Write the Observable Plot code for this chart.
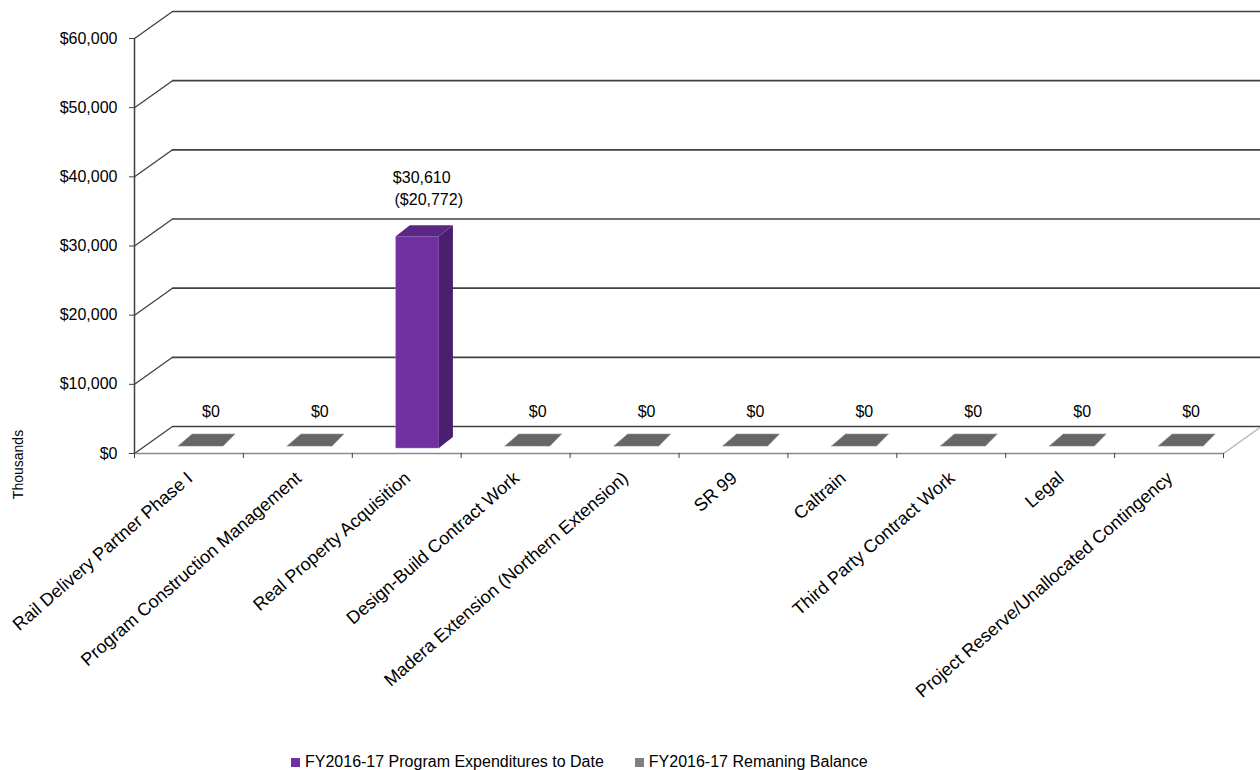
<!DOCTYPE html>
<html>
<head>
<meta charset="utf-8">
<script src="https://cdn.jsdelivr.net/npm/d3@7"></script>
<script src="https://cdn.jsdelivr.net/npm/@observablehq/plot@0.6"></script>
<style>
  html, body { margin: 0; padding: 0; background: #fff; }
  body { font-family: "Liberation Sans", Arial, sans-serif; }
  #wrap { position: relative; width: 1260px; height: 770px; overflow: hidden; }
  #chart { position: absolute; left: 0; top: 0; }
  #legend { position: absolute; top: 753px; left: 291px; display: flex; font-size: 16px; color: #000; white-space: nowrap; }
  .item { display: flex; align-items: center; margin-right: 31px; }
  .sw { width: 9px; height: 9px; margin-right: 5px; }
</style>
</head>
<body>
<div id="wrap">
  <div id="chart"></div>
  <div id="legend"></div>
</div>
<script>
// ---- data ----
const categories = [
  "Rail Delivery Partner Phase I",
  "Program Construction Management",
  "Real Property Acquisition",
  "Design-Build Contract Work",
  "Madera Extension (Northern Extension)",
  "SR 99",
  "Caltrain",
  "Third Party Contract Work",
  "Legal",
  "Project Reserve/Unallocated Contingency"
];
const expenditures = [0, 0, 30610, 0, 0, 0, 0, 0, 0, 0];
const remaining    = [0, 0, -20772, 0, 0, 0, 0, 0, 0, 0];
const yTicks = [0, 10000, 20000, 30000, 40000, 50000, 60000];
const seriesNames = ["FY2016-17 Program Expenditures to Date", "FY2016-17 Remaning Balance"];
const seriesColors = ["#7030A0", "#7f7f7f"];
const axisLabel = "Thousands";

// ---- layout / projection (pixels) ----
const W = 1260, H = 738;
const x0px = 134, floorY = 453, topY = 11;
const pxPerX = 108.9;                 // pixels per category
const pxPerY = 415 / 60000;           // pixels per value unit
const wallDx = 38 / pxPerX, wallDy = 27 / pxPerY;   // depth of the 3D box
const barDx = 14 / pxPerX, barDy = 11 / pxPerY;     // depth of each bar
const bx0 = 0.404, bx1 = 0.80;        // bar front face within category
const xMax = (W - x0px) / pxPerX;
const yMax = (floorY - topY) / pxPerY;
const N = categories.length;

const money = v => v < 0 ? "($" + d3.format(",")(-v) + ")" : "$" + d3.format(",")(v);

// bar geometry tables built from the data
const bars = expenditures.map((v, i) => ({i, v})).filter(d => d.v > 0);
const sidePts = bars.flatMap(d => [
  {i: d.i, x: d.i + bx1, y1: 0, y2: d.v},
  {i: d.i, x: d.i + bx1 + barDx, y1: barDy, y2: d.v + barDy}
]);
const topPts = bars.flatMap(d => [
  {i: d.i, y: d.v, x1: d.i + bx0, x2: d.i + bx1},
  {i: d.i, y: d.v + barDy, x1: d.i + bx0 + barDx, x2: d.i + bx1 + barDx}
]);
const slabPts = remaining.flatMap((v, i) => {
  const h = Math.max(0, v);
  return [
    {i, y: h, x1: i + bx0, x2: i + bx1 + 0.02},
    {i, y: h + barDy * 1.1, x1: i + bx0 + barDx, x2: i + bx1 + barDx}
  ];
});
const grayLabels = remaining.map((v, i) => ({i, top: Math.max(0, v, expenditures[i]), text: money(v)}));
const purpleLabels = expenditures.map((v, i) => ({i, top: Math.max(0, v, remaining[i]), text: money(v)}))
  .filter((d, i) => d.text !== grayLabels[i].text);

const dark = "#404040";

const chart = Plot.plot({
  width: W,
  height: H,
  marginLeft: x0px, marginTop: topY, marginRight: 0, marginBottom: H - floorY,
  style: {fontFamily: "'Liberation Sans', Arial, sans-serif", fontSize: "16px", color: "#000", background: "#fff"},
  x: {domain: [0, xMax], range: [x0px, W]},
  y: {domain: [0, yMax], range: [floorY, topY]},
  marks: [
    // back wall gridlines
    Plot.ruleY(yTicks, {y: d => d + wallDy, x1: wallDx, x2: N + wallDx, stroke: dark, strokeWidth: 1.6}),
    // left wall diagonals
    Plot.link(yTicks, {x1: 0, y1: d => d, x2: wallDx, y2: d => d + wallDy, stroke: dark, strokeWidth: 1.3}),
    // floor front edge and right edge
    Plot.ruleY([0], {x1: 0, x2: N, stroke: "#8c8c8c", strokeWidth: 1.5}),
    Plot.link([0], {x1: N, y1: 0, x2: N + wallDx, y2: wallDy, stroke: "#b0b0b0", strokeWidth: 1.2}),
    // vertical axis line
    Plot.ruleX([0], {y1: 0, y2: 60000, stroke: dark, strokeWidth: 1.5}),
    // gray slabs (remaining balance, zero height)
    Plot.areaX(slabPts, {y: "y", x1: "x1", x2: "x2", z: "i", fill: "#666666", stroke: "#a8a8a8", strokeWidth: 0.6, dy: -7}),
    // purple bars
    Plot.rect(bars, {x1: d => d.i + bx0, x2: d => d.i + bx1, y1: 0, y2: "v", fill: seriesColors[0], stroke: "#9b7bc0", strokeWidth: 0.5, dy: -5}),
    Plot.areaY(sidePts, {x: "x", y1: "y1", y2: "y2", z: "i", fill: "#4b1f6f", dy: -5}),
    Plot.areaX(topPts, {y: "y", x1: "x1", x2: "x2", z: "i", fill: "#5a2784", dy: -5}),
    // data labels
    Plot.text(grayLabels, {x: d => d.i + 0.5, y: "top", text: "text", dx: 22, dy: -42, fontSize: 16, fill: "#000"}),
    Plot.text(purpleLabels, {x: d => d.i + 0.5, y: "top", text: "text", dx: 15, dy: -64, fontSize: 16, fill: "#000"}),
    // y axis
    Plot.axisY(yTicks, {tickSize: 5, tickPadding: 12, tickFormat: money, fontSize: 16, stroke: dark}),
    // x ticks
    Plot.axisX(d3.range(0, N + 1), {tickSize: 5, tickFormat: () => "", stroke: dark}),
    // category labels
    Plot.text(categories, {x: (d, i) => i + 0.5, y: 0, text: d => d, rotate: -41, textAnchor: "end", dx: 1, dy: 22, fontSize: 18, fill: "#000"}),
    // axis title
    Plot.text([axisLabel], {x: 0, y: 0, text: d => d, rotate: -90, dx: -116, dy: 11, fontSize: 14, fill: "#000"})
  ]
});
document.getElementById("chart").appendChild(chart);

const legend = document.getElementById("legend");
seriesNames.forEach((name, k) => {
  const item = document.createElement("div");
  item.className = "item";
  const sw = document.createElement("span");
  sw.className = "sw";
  sw.style.background = seriesColors[k];
  const t = document.createElement("span");
  t.textContent = name;
  item.appendChild(sw);
  item.appendChild(t);
  legend.appendChild(item);
});
</script>
</body>
</html>
